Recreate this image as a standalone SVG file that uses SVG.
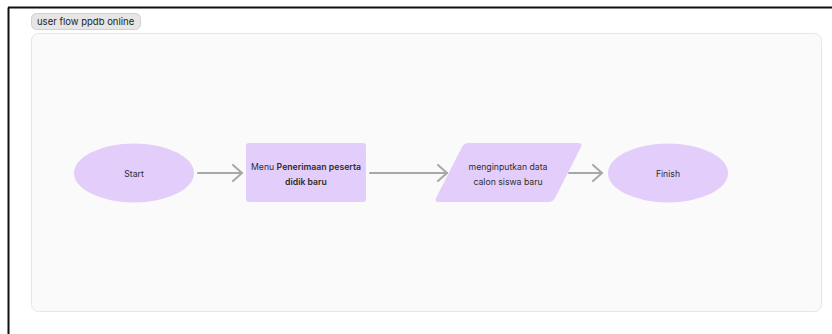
<svg xmlns="http://www.w3.org/2000/svg" width="832" height="334" viewBox="0 0 832 334">
  <style>
    .lbl { font-family: Inter, "Liberation Sans", sans-serif; font-size: 8.7px; fill: #2e2e2e; }
    .bold { font-weight: 600; }
    .node { fill: #e3cdfb; }
    .edge { stroke: #a8a8a8; stroke-width: 2; fill: none; stroke-linecap: round; stroke-linejoin: round; }
  </style>
  <defs>
    <marker id="chev" viewBox="0 0 12 18" refX="11" refY="9" markerWidth="12" markerHeight="18" markerUnits="userSpaceOnUse" orient="auto">
      <path d="M2 1 L11 9 L2 17" fill="none" stroke="#a8a8a8" stroke-width="2" stroke-linecap="round" stroke-linejoin="round"/>
    </marker>
  </defs>

  <rect width="832" height="334" fill="#ffffff"/>
  <!-- outer frame edges -->
  <line x1="8.5" y1="7.5" x2="8.5" y2="334" stroke="#111" stroke-width="2"/>
  <line x1="8" y1="7.5" x2="832" y2="7.5" stroke="#111" stroke-width="2"/>

  <!-- section panel -->
  <g id="section">
    <rect x="31.5" y="33.5" width="790" height="278" rx="7" fill="#fafafa" stroke="#e6e6e6" stroke-width="1"/>
    <rect x="31.5" y="13.5" width="109" height="16" rx="5" fill="#e6e6e6" stroke="#d0d0d0" stroke-width="1"/>
    <text x="37" y="25" font-family="Inter, 'Liberation Sans', sans-serif" font-size="9.5" fill="#222">user flow ppdb online</text>
  </g>

  <g id="connectors">
    <line class="edge" x1="198" y1="173" x2="242" y2="173" marker-end="url(#chev)"/>
    <line class="edge" x1="370" y1="173" x2="447" y2="173" marker-end="url(#chev)"/>
    <line class="edge" x1="569" y1="173" x2="602" y2="173" marker-end="url(#chev)"/>
  </g>

  <g id="start">
    <ellipse class="node" cx="134" cy="173" rx="60" ry="29.5"/>
    <text class="lbl" x="134" y="176.5" text-anchor="middle">Start</text>
  </g>

  <g id="menu">
    <rect class="node" x="246" y="143" width="120" height="59" rx="3"/>
    <text class="lbl" x="306" y="169.5" text-anchor="middle">Menu <tspan class="bold">Penerimaan peserta</tspan></text>
    <text class="lbl bold" x="306" y="184.5" text-anchor="middle">didik baru</text>
  </g>

  <g id="input">
    <path class="node" d="M469 143 L578 143 Q583 143 581 147 L555 198 Q553 202 548 202 L439 202 Q434 202 436 198 L462 147 Q464 143 469 143 Z"/>
    <text class="lbl" x="508" y="169.5" text-anchor="middle">menginputkan data</text>
    <text class="lbl" x="508" y="184.5" text-anchor="middle">calon siswa baru</text>
  </g>

  <g id="finish">
    <ellipse class="node" cx="668" cy="173" rx="60" ry="29.5"/>
    <text class="lbl" x="668" y="176.5" text-anchor="middle">Finish</text>
  </g>
</svg>
